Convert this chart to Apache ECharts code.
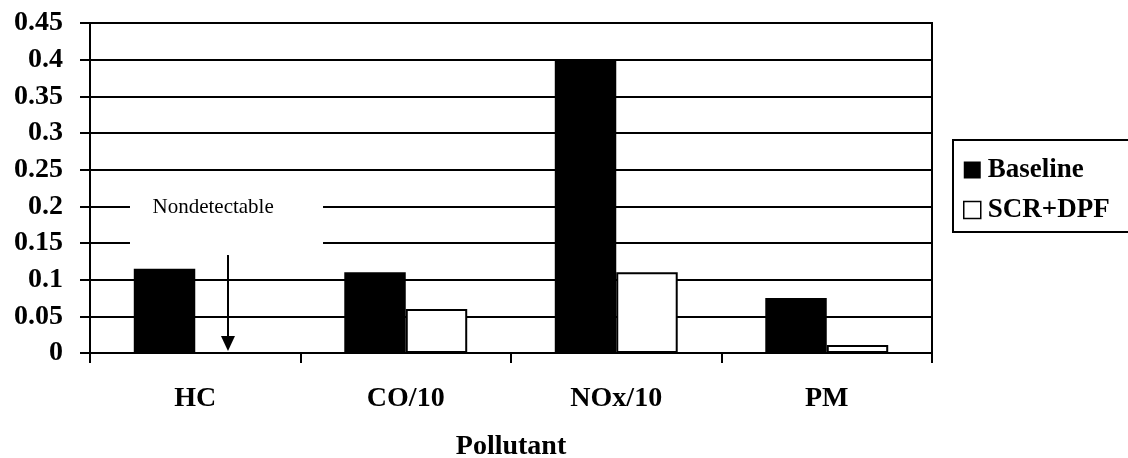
<!DOCTYPE html>
<html>
<head>
<meta charset="utf-8">
<script src="https://cdn.jsdelivr.net/npm/echarts@6/dist/echarts.min.js"></script>
<style>
  html, body { margin: 0; padding: 0; background: #fff; }
  #chart { width: 1128px; height: 458px; }
</style>
</head>
<body>
<div id="chart"></div>
<script>
// Emission results per pollutant (CO and NOx scaled down by 10)
const categories = ['HC', 'CO/10', 'NOx/10', 'PM'];
const baseline = [0.115, 0.110, 0.400, 0.075];
const scrDpf = [null, 0.060, 0.110, 0.011]; // HC was nondetectable with SCR+DPF
const yTickLabels = ['0', '0.05', '0.1', '0.15', '0.2', '0.25', '0.3', '0.35', '0.4', '0.45'];
const seriesNames = ['Baseline', 'SCR+DPF'];
const axisTitle = 'Pollutant';
const noteText = 'Nondetectable';

const FONT = '"Liberation Serif", "Times New Roman", serif';
const chart = echarts.init(document.getElementById('chart'), null, { renderer: 'canvas' });

const BAR_FRACTION = 0.292; // each bar's share of a category band

chart.setOption({
  animation: false,
  backgroundColor: '#fff',
  grid: {
    left: 90, right: 196, top: 23, bottom: 105,
    containLabel: false, outerBoundsMode: 'none',
    show: true, borderColor: '#000', borderWidth: 2
  },
  legend: {
    orient: 'vertical',
    left: 953, top: 140,
    padding: [15, 60, 7, 10],
    borderColor: '#000', borderWidth: 2,
    itemWidth: 17, itemHeight: 17, itemGap: 10,
    icon: 'rect',
    textStyle: { fontFamily: FONT, fontWeight: 'bold', fontSize: 27, color: '#000', lineHeight: 30, padding: [0, 0, 0, 2] },
    data: [
      { name: seriesNames[0], itemStyle: { color: '#000', borderWidth: 0 } },
      { name: seriesNames[1], itemStyle: { color: '#fff', borderColor: '#000', borderWidth: 1.5 } }
    ]
  },
  xAxis: {
    type: 'category',
    data: categories,
    name: axisTitle,
    nameLocation: 'middle',
    nameGap: 80,
    nameTextStyle: { fontFamily: FONT, fontWeight: 'bold', fontSize: 28, color: '#000' },
    axisLine: { lineStyle: { color: '#000', width: 2 } },
    axisTick: { show: true, length: 10, lineStyle: { color: '#000', width: 2 } },
    axisLabel: { fontFamily: FONT, fontWeight: 'bold', fontSize: 28, color: '#000', margin: 32 },
    splitLine: { show: false }
  },
  yAxis: {
    type: 'value',
    min: 0, max: 0.45, interval: 0.05,
    axisLine: { show: true, lineStyle: { color: '#000', width: 2 } },
    axisTick: { show: true, length: 10, lineStyle: { color: '#000', width: 2 } },
    axisLabel: {
      fontFamily: FONT, fontWeight: 'bold', fontSize: 28, color: '#000', margin: 27,
      formatter: v => yTickLabels[Math.round(v / 0.05)]
    },
    splitLine: { show: true, lineStyle: { color: '#000', width: 2 } }
  },
  series: [
    {
      name: seriesNames[0], type: 'bar', data: baseline,
      barWidth: (BAR_FRACTION * 100) + '%', barGap: '0%',
      itemStyle: { color: '#000', borderColor: '#000', borderWidth: 0 }
    },
    {
      name: seriesNames[1], type: 'bar', data: scrDpf,
      barWidth: (BAR_FRACTION * 100) + '%', barGap: '0%',
      itemStyle: { color: '#fff', borderColor: '#000', borderWidth: 2 }
    }
  ]
});

// "Nondetectable" note with a downward arrow onto the missing HC bar
function drawNote() {
  const toPx = (cat, val) => chart.convertToPixel({ xAxisIndex: 0, yAxisIndex: 0 }, [cat, val]);
  const c0 = toPx(0, 0);
  const c1 = toPx(1, 0);
  const band = c1[0] - c0[0];
  const boxTop = toPx(0, 0.229)[1];
  const boxBottom = toPx(0, 0.124)[1];
  const boxLeft = c0[0] - 0.31 * band;
  const boxRight = c0[0] + 0.607 * band;
  const textPos = toPx(0, 0.199);
  const arrowX = c0[0] + band * BAR_FRACTION / 2 + 2;
  const arrowTop = toPx(0, 0.1336)[1];
  const arrowTip = toPx(0, 0)[1] - 2;
  const headH = 15, headW = 7;

  chart.setOption({
    graphic: [
      { type: 'rect', z: 10, shape: { x: boxLeft, y: boxTop, width: boxRight - boxLeft, height: boxBottom - boxTop },
        style: { fill: '#fff' } },
      { type: 'text', z: 11, x: textPos[0] + 0.085 * band, y: textPos[1],
        style: { text: noteText, fontFamily: FONT, fontSize: 21, fill: '#000', align: 'center', verticalAlign: 'middle' } },
      { type: 'line', z: 11, shape: { x1: arrowX, y1: arrowTop, x2: arrowX, y2: arrowTip - headH + 2 },
        style: { stroke: '#000', lineWidth: 2 } },
      { type: 'polygon', z: 11, shape: { points: [[arrowX - headW, arrowTip - headH], [arrowX + headW, arrowTip - headH], [arrowX, arrowTip]] },
        style: { fill: '#000' } }
    ]
  });
}
drawNote();
</script>
</body>
</html>
